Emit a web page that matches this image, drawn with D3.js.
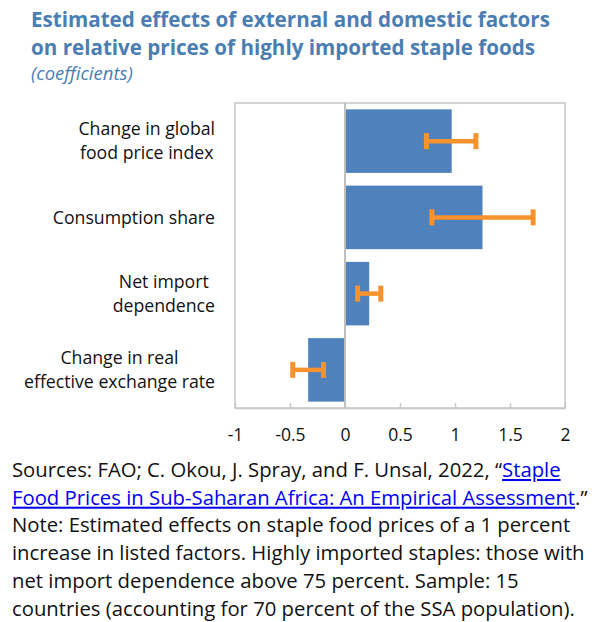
<!DOCTYPE html>
<html>
<head>
<meta charset="utf-8">
<script src="https://cdn.jsdelivr.net/npm/d3@7"></script>
<style>
  body { margin: 0; background: #fff; }
  svg { display: block; font-family: "Open Sans", "Noto Sans", sans-serif; }
</style>
</head>
<body>
<div id="chart"></div>
<script>
// data
const categories = [
  ["Change in global", "food price index"],
  ["Consumption share"],
  ["Net import", "dependence"],
  ["Change in real", "effective exchange rate"]
];
const coefficients = [0.97, 1.25, 0.22, -0.335];
const lowerBounds = [0.74, 0.79, 0.115, -0.475];
const upperBounds = [1.19, 1.71, 0.325, -0.195];
const xTicks = [-1, -0.5, 0, 0.5, 1, 1.5, 2];

const titleLines = [
  "Estimated effects of external and domestic factors",
  "on relative prices of highly imported staple foods"
];
const subtitle = "(coefficients)";

const width = 600, height = 622;
const plot = { left: 235, right: 565, top: 103, bottom: 408 };

const svg = d3.select("#chart").append("svg")
  .attr("width", width)
  .attr("height", height);

// title
svg.append("g").selectAll("text")
  .data(titleLines)
  .enter().append("text")
  .attr("x", 31)
  .attr("y", (d, i) => 27 + i * 28)
  .attr("fill", "#4a7eb3")
  .attr("font-weight", "bold")
  .attr("font-size", "20.6px")
  .text(d => d);

svg.append("text")
  .attr("x", 31)
  .attr("y", 80)
  .attr("fill", "#4a7eb3")
  .attr("font-style", "italic")
  .attr("font-size", "18.5px")
  .text(subtitle);

// scales
const x = d3.scaleLinear()
  .domain([-1, 2])
  .range([plot.left, plot.right]);

const y = d3.scaleBand()
  .domain(d3.range(categories.length))
  .range([plot.top, plot.bottom])
  .paddingInner(0.167)
  .paddingOuter(0.0835);

// frame
svg.append("rect")
  .attr("x", plot.left)
  .attr("y", plot.top)
  .attr("width", plot.right - plot.left)
  .attr("height", plot.bottom - plot.top)
  .attr("fill", "none")
  .attr("stroke", "#c6c6c6")
  .attr("stroke-width", 1.5);

// bars
svg.append("g").selectAll("rect")
  .data(coefficients)
  .enter().append("rect")
  .attr("x", d => x(Math.min(0, d)))
  .attr("y", (d, i) => y(i))
  .attr("width", d => Math.abs(x(d) - x(0)))
  .attr("height", y.bandwidth())
  .attr("fill", "#4f81bd");

// zero line
svg.append("line")
  .attr("x1", x(0)).attr("x2", x(0))
  .attr("y1", plot.top).attr("y2", plot.bottom)
  .attr("stroke", "#bfbfbf")
  .attr("stroke-width", 2);

// x axis: inside ticks, labels below
const xAxis = svg.append("g")
  .attr("transform", "translate(0," + plot.bottom + ")")
  .call(d3.axisBottom(x)
    .tickValues(xTicks)
    .tickFormat(d => String(d))
    .tickSize(-5)
    .tickPadding(21)
    .tickSizeOuter(0));
xAxis.select(".domain").attr("stroke", "#c6c6c6").attr("stroke-width", 1.5);
xAxis.selectAll(".tick line").attr("stroke", "#c6c6c6").attr("stroke-width", 1.5);
xAxis.selectAll(".tick text")
  .attr("font-family", "'Open Sans', 'Noto Sans', sans-serif")
  .attr("font-size", "17.5px")
  .attr("fill", "#111");

// error bars
const err = svg.append("g")
  .attr("stroke", "#f7922d")
  .attr("stroke-width", 4.5);

coefficients.forEach((d, i) => {
  const cy = y(i) + y.bandwidth() / 2;
  err.append("line")
    .attr("x1", x(lowerBounds[i])).attr("x2", x(upperBounds[i]))
    .attr("y1", cy).attr("y2", cy);
  [lowerBounds[i], upperBounds[i]].forEach(v => {
    err.append("line")
      .attr("x1", x(v)).attr("x2", x(v))
      .attr("y1", cy - 8).attr("y2", cy + 8)
      .attr("stroke-width", 5);
  });
});

// category labels: block right-aligned, lines centred within block
const labelRight = 215;
const labelGroup = svg.append("g")
  .attr("font-size", "17.7px")
  .attr("fill", "#111");

categories.forEach((lines, i) => {
  const cy = y(i) + y.bandwidth() / 2;
  const texts = lines.map((line, j) => labelGroup.append("text")
    .attr("y", cy + (j - (lines.length - 1) / 2) * 24)
    .attr("dy", "0.35em")
    .attr("text-anchor", "middle")
    .text(line));
  const maxW = d3.max(texts, t => t.node().getComputedTextLength());
  texts.forEach(t => t.attr("x", labelRight - maxW / 2));
});

// footnote
const note = svg.append("g")
  .attr("font-size", "20.3px")
  .attr("fill", "#111");

const noteY = 477, noteStep = 27.7;

const l1 = note.append("text").attr("x", 12).attr("y", noteY);
l1.append("tspan").text("Sources: FAO; C. Okou, J. Spray, and F. Unsal, 2022, \u201c");
l1.append("tspan").attr("fill", "#0000ee").attr("text-decoration", "underline").text("Staple");

const l2 = note.append("text").attr("x", 12).attr("y", noteY + noteStep);
l2.append("tspan").attr("fill", "#0000ee").attr("text-decoration", "underline")
  .text("Food Prices in Sub-Saharan Africa: An Empirical Assessment");
l2.append("tspan").text(".\u201d");

const noteLines = [
  "Note: Estimated effects on staple food prices of a 1 percent",
  "increase in listed factors. Highly imported staples: those with",
  "net import dependence above 75 percent. Sample: 15",
  "countries (accounting for 70 percent of the SSA population)."
];
note.selectAll("text.line")
  .data(noteLines)
  .enter().append("text")
  .attr("class", "line")
  .attr("x", 12)
  .attr("y", (d, i) => noteY + (i + 2) * noteStep)
  .text(d => d);
</script>
</body>
</html>
